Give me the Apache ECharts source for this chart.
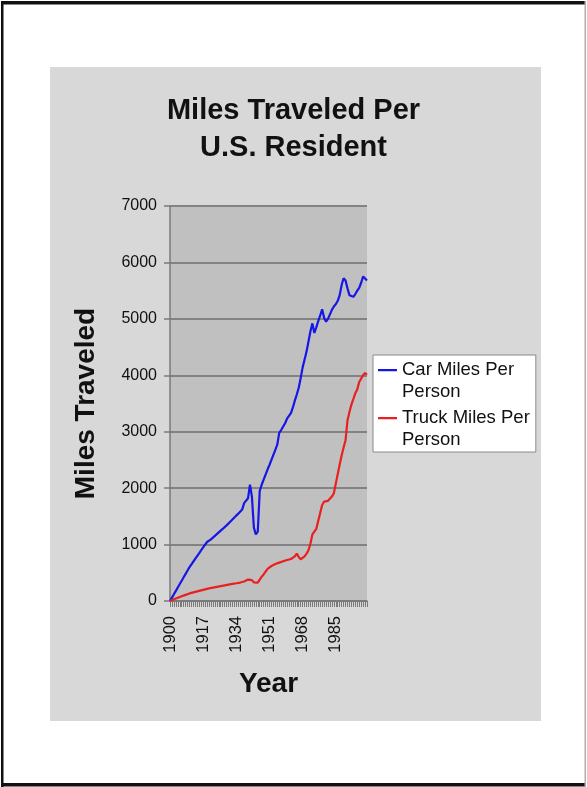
<!DOCTYPE html>
<html>
<head>
<meta charset="utf-8">
<script src="https://cdn.jsdelivr.net/npm/echarts@6/dist/echarts.min.js"></script>
<style>
  html, body { margin: 0; padding: 0; background: #ffffff; }
  #chart { width: 587px; height: 787px; }
</style>
</head>
<body>
<div id="chart"></div>
<script>
// Annual years on the category axis
const years = [];
for (let y = 1900; y <= 2001; y++) years.push(String(y));

// Car miles per person, 1900-2001
const carMiles = [
  0, 60, 120, 180, 240, 300, 360, 420, 480, 540,
  600, 650, 700, 750, 800, 850, 900, 950, 1000, 1045,
  1060, 1091, 1122, 1153, 1184, 1215, 1246, 1277, 1308, 1340,
  1375, 1410, 1445, 1480, 1513, 1548, 1582, 1620, 1735, 1770,
  1820, 2060, 1850, 1300, 1180, 1230, 1950, 2060, 2150, 2240,
  2330, 2410, 2500, 2590, 2680, 2770, 2980, 3030, 3060, 3150,
  3230, 3280, 3330, 3430, 3550, 3660, 3780, 3950, 4140, 4280,
  4420, 4600, 4780, 4920, 4750, 4850, 4960, 5060, 5170, 5020,
  4950, 5000, 5080, 5160, 5220, 5260, 5320, 5420, 5600, 5720,
  5680, 5540, 5420, 5400, 5390, 5440, 5500, 5550, 5640, 5750,
  5740, 5680
];

// Truck miles per person, 1900-2001
const truckMiles = [
  0, 15, 30, 44, 57, 70, 83, 96, 109, 122,
  134, 143, 152, 161, 170, 179, 188, 197, 206, 215,
  223, 230, 237, 244, 251, 258, 264, 270, 276, 283,
  290, 296, 302, 308, 314, 320, 327, 334, 345, 360,
  380, 400, 370, 330, 322, 325, 380, 430, 470, 520,
  570, 600, 620, 640, 655, 668, 680, 692, 704, 716,
  727, 736, 745, 755, 790, 840, 780, 740, 750, 790,
  840, 900, 1020, 1180, 1230, 1280, 1420, 1560, 1700, 1760,
  1770, 1775, 1780, 1850, 1910, 2080, 2250, 2420, 2580, 2720,
  2850, 3200, 3350, 3480, 3580, 3680, 3750, 3880, 3940, 4000,
  4040, 4010
];

const seriesNames = ['Car Miles Per Person', 'Truck Miles Per Person'];
const yTicks = { min: 0, max: 7000, step: 1000 };

const FONT = '"Liberation Sans", Arial, sans-serif';
const chart = echarts.init(document.getElementById('chart'), null, { renderer: 'canvas' });

// Legend icon: short line level with the first text line, padded to the full item height
const legendIcon = 'path://M0,10 L19,10 L19,12.2 L0,12.2 Z M0,0 L0.01,0 L0.01,0.01 Z M0,44 L0.01,44 L0.01,43.99 Z';

chart.setOption({
  animation: false,
  backgroundColor: '#ffffff',
  graphic: [
    // page frame
    { type: 'rect', z: -10, shape: { x: 0, y: 0, width: 587, height: 787 }, style: { fill: '#ffffff' } },
    { type: 'rect', z: -9, shape: { x: 1, y: 1, width: 2.5, height: 786 }, style: { fill: '#111111' } },
    { type: 'rect', z: -9, shape: { x: 1, y: 1, width: 585, height: 3.5 }, style: { fill: '#111111' } },
    { type: 'rect', z: -9, shape: { x: 1, y: 783, width: 585, height: 3.5 }, style: { fill: '#111111' } },
    { type: 'rect', z: -9, shape: { x: 584.5, y: 1, width: 1.5, height: 786 }, style: { fill: '#b0b0b0' } },
    // chart panel
    { type: 'rect', z: -8, shape: { x: 50, y: 67, width: 491, height: 654 }, style: { fill: '#d8d8d8' } }
  ],
  title: {
    text: 'Miles Traveled Per\nU.S. Resident',
    left: 'center',
    top: 92,
    padding: [0, 0, 0, 3],
    textStyle: {
      fontFamily: FONT,
      fontSize: 29,
      fontWeight: 'bold',
      color: '#111111',
      lineHeight: 37
    }
  },
  legend: {
    orient: 'vertical',
    left: 373,
    top: 355,
    padding: [4, 6, 1, 5],
    itemGap: 4,
    itemWidth: 19,
    itemHeight: 44,
    icon: legendIcon,
    symbolKeepAspect: false,
    backgroundColor: '#ffffff',
    borderColor: '#8a8a8a',
    borderWidth: 1,
    data: seriesNames,
    formatter: function (name) { return name.replace(' Person', '\nPerson'); },
    textStyle: {
      fontFamily: FONT,
      fontSize: 18.5,
      lineHeight: 22,
      color: '#111111'
    }
  },
  grid: {
    left: 170,
    top: 206,
    right: 220,
    bottom: 186,
    show: true,
    backgroundColor: '#c0c0c0',
    borderWidth: 0
  },
  xAxis: {
    type: 'category',
    data: years,
    boundaryGap: false,
    name: 'Year',
    nameLocation: 'middle',
    nameGap: 69,
    nameTextStyle: {
      fontFamily: FONT,
      fontSize: 28,
      fontWeight: 'bold',
      color: '#111111'
    },
    axisLine: { show: true, lineStyle: { color: '#7a7a7a', width: 1.5 } },
    axisTick: { show: true, interval: 0, length: 6, lineStyle: { color: '#7a7a7a', width: 1 } },
    axisLabel: {
      interval: 16,
      rotate: 90,
      margin: 15,
      fontFamily: FONT,
      fontSize: 16.5,
      color: '#111111'
    },
    splitLine: { show: false }
  },
  yAxis: {
    type: 'value',
    min: yTicks.min,
    max: yTicks.max,
    interval: yTicks.step,
    name: 'Miles Traveled',
    nameLocation: 'middle',
    nameGap: 70,
    nameTextStyle: {
      fontFamily: FONT,
      fontSize: 28,
      fontWeight: 'bold',
      color: '#111111'
    },
    axisLine: { show: true, lineStyle: { color: '#7a7a7a', width: 1.5 } },
    axisTick: { show: true, length: 6, lineStyle: { color: '#7a7a7a', width: 1.5 } },
    axisLabel: {
      margin: 13,
      fontFamily: FONT,
      fontSize: 16,
      color: '#111111',
      formatter: function (v) { return String(v); }
    },
    splitLine: { show: true, lineStyle: { color: '#828282', width: 2 } }
  },
  series: [
    {
      name: seriesNames[0],
      type: 'line',
      data: carMiles,
      symbol: 'none',
      smooth: false,
      color: '#1616e6',
      itemStyle: { color: '#1616e6' },
      lineStyle: { color: '#1616e6', width: 2.2 },
      z: 3
    },
    {
      name: seriesNames[1],
      type: 'line',
      data: truckMiles,
      symbol: 'none',
      smooth: false,
      color: '#ea1f1f',
      itemStyle: { color: '#ea1f1f' },
      lineStyle: { color: '#ea1f1f', width: 2.2 },
      z: 3
    }
  ]
});
</script>
</body>
</html>
